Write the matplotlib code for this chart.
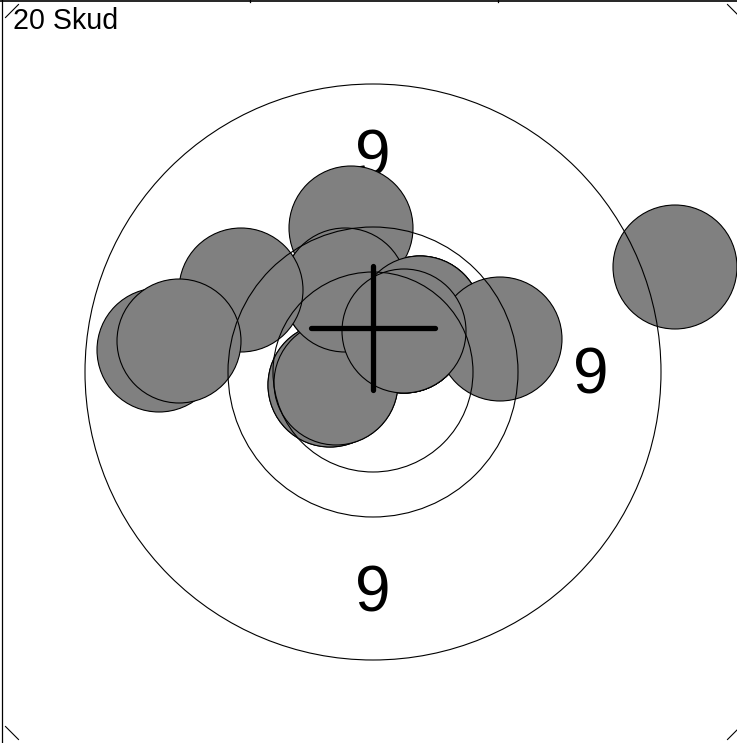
"""
Shot group plot: 20 shots on a target with ring circles and mean point of impact
"""
import matplotlib
matplotlib.use('Agg')
import matplotlib.pyplot as plt
from matplotlib.patches import Circle

# target (units: 1 = 10 px in the picture, centre of target at 0,0)
ring_radii = [10.0, 14.5, 28.8]
ring_labels = ['9', '9', '9', '9']
label_angles = [90, 0, 270, 180]
label_radius = 21.8
frame_half = 36.75
frame_cut = 1.3

# shots, in firing order (several land on top of each other)
shot_x = [3.1, 3.1, 4.7, -2.8, 3.1, 4.7, -4.3, -3.7, 3.1,
          -4.3, -3.7, -21.4, -2.2, -2.8, -13.2, -19.4, 4.7, 12.7, 3.1, 30.2]
shot_y = [4.1, 4.1, 5.4, 8.2, 4.1, 5.4, -1.3, -1.1, 4.1,
          -1.3, -1.1, 2.2, 14.4, 8.2, 8.2, 3.1, 5.4, 3.3, 4.1, 10.5]
shot_radius = 6.2

# mean point of impact
mpi = (0.0, 4.4)
cross_half = 6.2

title = f'{len(shot_x)} Skud'


def draw_target(ax):
    import numpy as np
    for ang, lab in zip(label_angles, ring_labels):
        a = np.deg2rad(ang)
        # small nudge down so the digit itself sits centred on the radius
        ax.text(label_radius * np.cos(a), label_radius * np.sin(a) - 0.45, lab,
                fontsize=46, family='Liberation Sans', ha='center', va='center',
                zorder=1)

    for x, y in zip(shot_x, shot_y):
        ax.add_patch(Circle((x, y), shot_radius, facecolor='#808080',
                            edgecolor='black', linewidth=0.8, zorder=2))

    for r in ring_radii:
        ax.add_patch(Circle((0, 0), r, fill=False, edgecolor='black',
                            linewidth=0.8, zorder=3))

    # corner cuts of the target frame
    for sx in (-1, 1):
        for sy in (-1, 1):
            ax.plot([sx * frame_half, sx * (frame_half - frame_cut)],
                    [sy * (frame_half - frame_cut), sy * frame_half],
                    color='black', linewidth=0.8, zorder=3)


def draw_cross(ax):
    cx, cy = mpi
    ax.plot([cx - cross_half, cx + cross_half], [cy, cy], color='black',
            linewidth=3.8, solid_capstyle='round', zorder=4)
    ax.plot([cx, cx], [cy - cross_half, cy + cross_half], color='black',
            linewidth=3.8, solid_capstyle='round', zorder=4)


fig = plt.figure(figsize=(7.37, 7.43), dpi=100)
ax = fig.add_axes([0, 0, 1, 1])
ax.set_xlim(-37.3, 36.4)
ax.set_ylim(-37.1, 37.2)
ax.axis('off')

draw_target(ax)
draw_cross(ax)

# cell border from the sheet the plot sits in
ax.plot([-37.3, 36.4], [37.1, 37.1], color='black', linewidth=1.2, zorder=5)
ax.plot([-37.05, -37.05], [-37.1, 37.2], color='black', linewidth=0.9, zorder=5)
for tx in (-12.3, 12.5):
    ax.plot([tx, tx], [37.0, 37.2], color='black', linewidth=0.9, zorder=5)

ax.text(-36.0, 34.35, title, fontsize=20.6, family='Liberation Sans',
        ha='left', va='baseline', zorder=5)

plt.savefig('out.png', dpi=100)
plt.close()
